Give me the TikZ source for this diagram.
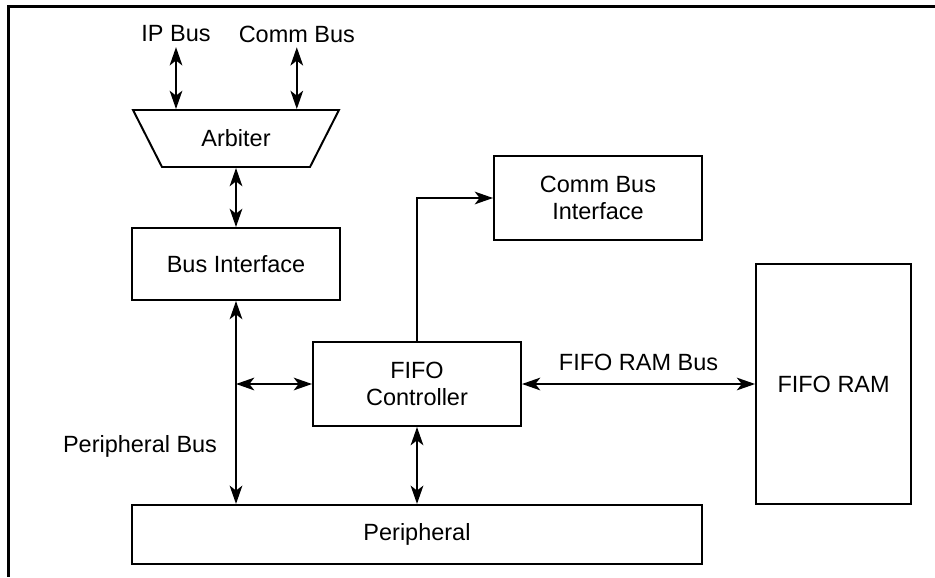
\documentclass[tikz,border=0pt]{standalone}
\usepackage{fontspec}
\setmainfont{Liberation Sans}
\usetikzlibrary{arrows.meta, positioning, shapes.geometric}

\begin{document}
\begin{tikzpicture}[
  block/.style={draw, line width=1.4pt, minimum width=5.2cm,
    minimum height=2.1cm, align=center},
  arbiter/.style={draw, line width=1.4pt, trapezium, trapezium angle=60,
    trapezium stretches=true, shape border rotate=180,
    minimum width=5.175cm, minimum height=1.425cm},
  lbl/.style={inner sep=0pt},
  bus/.style={line width=1.4pt, <->},
  link/.style={line width=1.4pt, ->},
  >={Stealth[length=13pt, width=9pt, inset=3.5pt]},
  font=\fontsize{16.7}{19.2}\selectfont
]
  \useasboundingbox (0,0) rectangle (23.375,-14.425);
  % Frame
  \draw[line width=1.6pt] (23.375,-0.1625) -| (0.2125,-14.425);

  % Arbiter
  \node[arbiter] (arb) at (5.9,-3.4625) {Arbiter};
  \node (ipbus) at (4.4,-0.85) {IP Bus};
  \node (commbus) at (7.42,-0.85) {Comm Bus};
  \draw[bus] (ipbus.south) -- (ipbus.south |- arb.north);
  \draw[bus] (commbus.south) -- (commbus.south |- arb.north);

  % Blocks
  \node[block, minimum height=1.8cm] (bif) at (5.9,-6.6) {Bus Interface};
  \node[block] (fifo) at (10.425,-9.6) {FIFO\\Controller};
  \node[block] (cbif) at (14.95,-4.95) {Comm Bus\\Interface};
  \node[block, minimum width=3.875cm, minimum height=6cm] (ram)
    at (20.84,-9.6) {FIFO RAM};
  \node[block, minimum width=14.25cm, minimum height=1.475cm] (per)
    at (10.425,-13.36) {Peripheral};

  % Peripheral bus
  \draw[bus] (arb.south) -- (bif.north);
  \draw[bus] (bif.south) -- (bif.south |- per.north);
  \draw[bus] (bif.south |- fifo.west) -- (fifo.west);
  \node[anchor=base east] (pbus) at (5.55,-11.3) {Peripheral Bus};

  % FIFO connections
  \draw[bus] (fifo.south) -- (fifo.south |- per.north);
  \draw[link] (fifo.north) |- (cbif.west);
  \draw[bus] (fifo.east) -- node[lbl, above=9pt] (rambus) {FIFO RAM Bus}
    (ram.west);
\end{tikzpicture}
\end{document}
